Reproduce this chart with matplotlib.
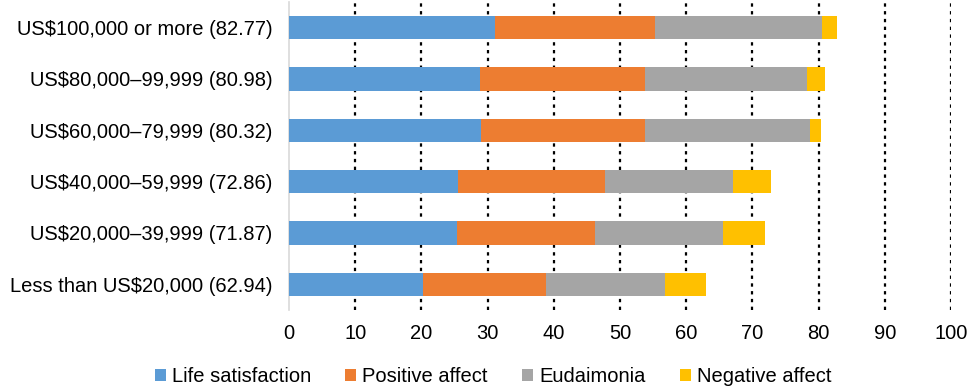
import numpy as np
import matplotlib.pyplot as plt

plt.rcParams['font.family'] = ['Liberation Sans', 'DejaVu Sans']

#Data (top row first)
categories = ['US$100,000 or more (82.77)', 'US$80,000\u201399,999 (80.98)',
              'US$60,000\u201379,999 (80.32)', 'US$40,000\u201359,999 (72.86)',
              'US$20,000\u201339,999 (71.87)', 'Less than US$20,000 (62.94)']
life_satisfaction = [31.13, 28.90, 29.01, 25.60, 25.43, 20.29]
positive_affect = [24.21, 24.93, 24.82, 22.08, 20.85, 18.56]
eudaimonia = [25.10, 24.48, 24.82, 19.45, 19.34, 17.89]
negative_affect = [2.33, 2.67, 1.67, 5.73, 6.25, 6.20]
series_names = ['Life satisfaction', 'Positive affect', 'Eudaimonia', 'Negative affect']
colors = ['#5B9BD5', '#ED7D31', '#A5A5A5', '#FFC000']

fig = plt.figure(figsize=(9.68, 3.87), dpi=100)
ax = fig.add_axes([289/968, 77/387, (951-289)/968, 308/387])

y = np.arange(len(categories))[::-1]
left = np.zeros(len(categories))
for vals, name, c in zip([life_satisfaction, positive_affect, eudaimonia, negative_affect],
                         series_names, colors):
    ax.barh(y, vals, left=left, height=0.45, color=c, label=name, zorder=3)
    left = left + np.array(vals)

ax.set_xlim(0, 100)
ax.set_ylim(-0.5, 5.5)
ax.set_xticks(np.arange(0, 101, 10))
ax.set_yticks(y)
ax.set_yticklabels(categories)
ax.tick_params(axis='both', length=0, labelsize=14.5, colors='black')
ax.tick_params(axis='y', pad=12)
ax.tick_params(axis='x', pad=10)

#Gridlines punteadas
for xv in range(10, 101, 10):
    ax.axvline(xv, color='black', linestyle=(0, (1.5, 2)), linewidth=1.6, zorder=1)

for s in ['top', 'right', 'bottom']:
    ax.spines[s].set_visible(False)
ax.spines['left'].set_color('#D9D9D9')
ax.spines['left'].set_linewidth(1.2)

ax.legend(loc='center', bbox_to_anchor=(493/968, 10/387), bbox_transform=fig.transFigure,
          ncol=4, frameon=False, fontsize=14.5, handlelength=0.55, handleheight=0.55,
          handletextpad=0.3, columnspacing=1.7, borderpad=0)

fig.savefig('out.png', dpi=100)
